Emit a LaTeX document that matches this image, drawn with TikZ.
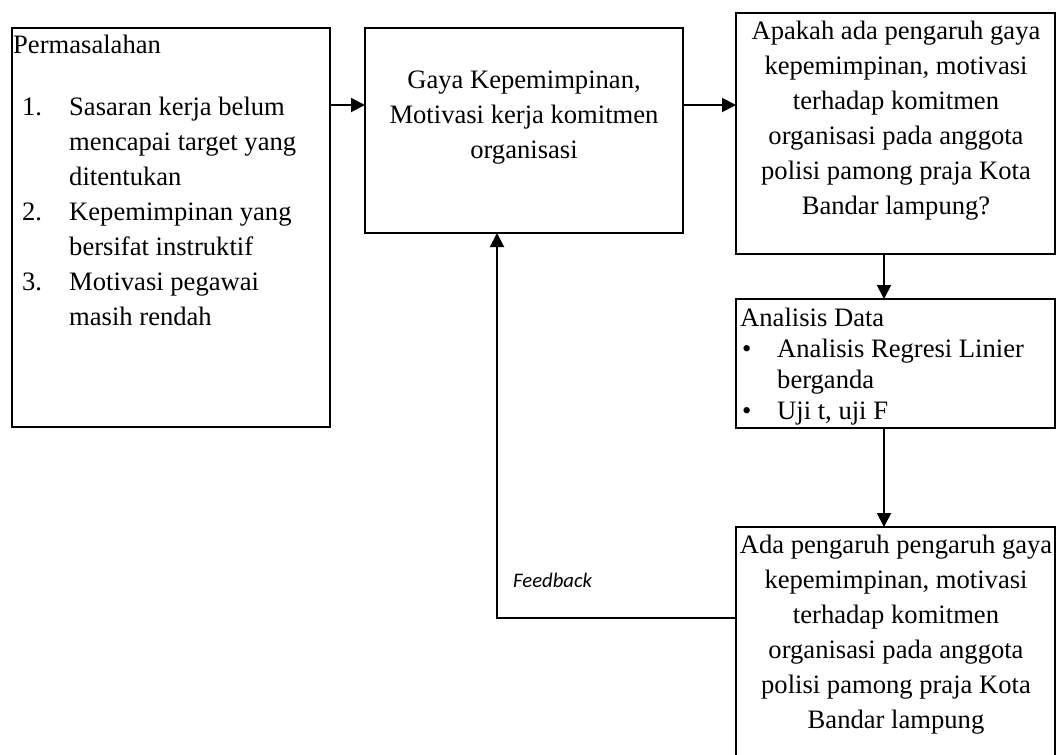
\documentclass[tikz,border=0pt]{standalone}
\usepackage{fontspec}
\setmainfont{Liberation Serif}
\newfontfamily\fbfont{Carlito}
\usetikzlibrary{arrows.meta}
\begin{document}
\begin{tikzpicture}[x=1pt,y=-1pt,
  box/.style={draw=black, line width=2.3pt, inner sep=0pt, outer sep=0pt},
  conn/.style={line width=1.9pt, -{Triangle[length=14pt,width=14pt]}},
  plain/.style={line width=1.9pt},
  txt/.style={inner sep=0pt, anchor=base, font=\fontsize{26.6}{35}\selectfont},
  ltxt/.style={inner sep=0pt, anchor=base west, font=\fontsize{26.6}{35}\selectfont}]
\useasboundingbox (0,0) rectangle (1058,755);
\clip (0,0) rectangle (1058,755);
\fill[white] (0,0) rectangle (1058,755);
% boxes
\node[box, minimum width=318pt, minimum height=399pt] (b1) at (171,227.5) {};
\node[box, minimum width=318pt, minimum height=205pt] (b2) at (524,130.5) {};
\node[box, minimum width=319pt, minimum height=241pt] (b3) at (895.5,133.5) {};
\node[box, minimum width=319pt, minimum height=129pt] (b4) at (895.5,363.5) {};
\node[box, minimum width=319pt, minimum height=250pt] (b5) at (895.5,652) {};
% box 1 text
\node[ltxt] (p0) at (13,53) {Permasalahan};
\node[ltxt] (n1) at (22,115) {1.};
\node[ltxt] (p1) at (69,115) {Sasaran kerja belum};
\node[ltxt] (p2) at (69,150) {mencapai target yang};
\node[ltxt] (p3) at (69,185) {ditentukan};
\node[ltxt] (n2) at (22,220) {2.};
\node[ltxt] (p4) at (69,220) {Kepemimpinan yang};
\node[ltxt] (p5) at (69,255) {bersifat instruktif};
\node[ltxt] (n3) at (22,290) {3.};
\node[ltxt] (p6) at (69,290) {Motivasi pegawai};
\node[ltxt] (p7) at (69,325) {masih rendah};
% box 2 text
\foreach \t [count=\i] in {{Gaya Kepemimpinan,},{Motivasi kerja komitmen},{organisasi}}
  \node[txt] (g\i) at (524,53+35*\i) {\t};
% box 3 text
\foreach \t [count=\i] in {{Apakah ada pengaruh gaya},{kepemimpinan, motivasi},{terhadap komitmen},{organisasi pada anggota},{polisi pamong praja Kota},{Bandar lampung?}}
  \node[txt] (q\i) at (896,4+35*\i) {\t};
% box 4 text
\node[ltxt] (a0) at (740,326) {Analisis Data};
\node[ltxt] (d1) at (742,357) {•};
\node[ltxt] (a1) at (777,357) {Analisis Regresi Linier};
\node[ltxt] (a2) at (777,388) {berganda};
\node[ltxt] (d2) at (742,419) {•};
\node[ltxt] (a3) at (777,419) {Uji t, uji F};
% box 5 text
\foreach \t [count=\i] in {{Ada pengaruh pengaruh gaya},{kepemimpinan, motivasi},{terhadap komitmen},{organisasi pada anggota},{polisi pamong praja Kota},{Bandar lampung}}
  \node[txt] (r\i) at (896,518+35*\i) {\t};
% feedback label
\node[inner sep=0pt, anchor=base west, font=\fbfont\itshape\fontsize{20.7}{24}\selectfont] (fb) at (513,587) {Feedback};
% connectors
\coordinate (h1) at (0,105);
\coordinate (v1) at (884,0);
\coordinate (fbturn) at (497,618);
\draw[conn] (b1.east |- h1) -- (b2.west |- h1);
\draw[conn] (b2.east |- h1) -- (b3.west |- h1);
\draw[conn] (b3.south -| v1) -- (b4.north -| v1);
\draw[conn] (b4.south -| v1) -- (b5.north -| v1);
\draw[conn] (b5.west |- fbturn) -- (fbturn) -- (b2.south -| fbturn);
\end{tikzpicture}
\end{document}
